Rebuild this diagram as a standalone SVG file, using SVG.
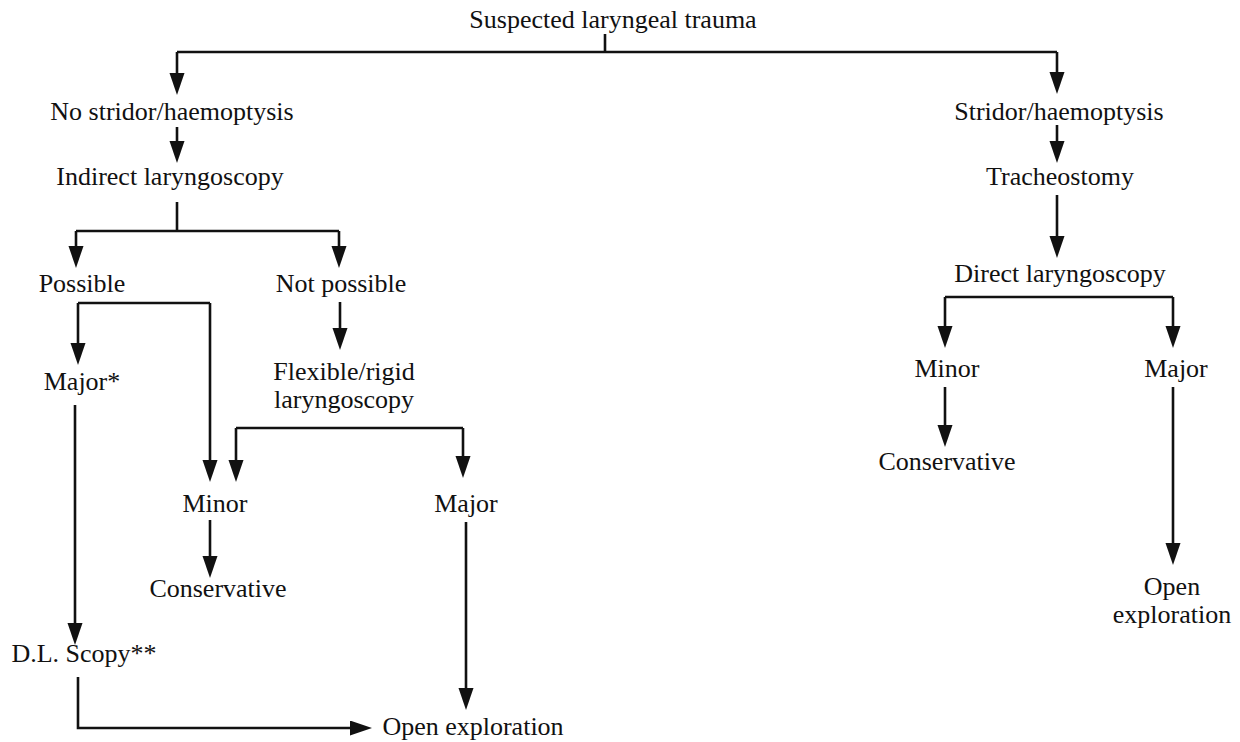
<svg xmlns="http://www.w3.org/2000/svg" width="1240" height="742" viewBox="0 0 1240 742">
<defs>
<marker id="ah" markerUnits="userSpaceOnUse" markerWidth="24" markerHeight="16" refX="16" refY="7.5" orient="auto">
<path d="M0,0 L22,7.5 L0,15 z" fill="#111"/>
</marker>
<style>
text{font-family:"Liberation Serif","Times New Roman",serif;font-size:26px;fill:#111;text-anchor:middle}
.c path{fill:none;stroke:#111;stroke-width:2.6}
.c .a{marker-end:url(#ah)}
</style>
</defs>
<rect width="1240" height="742" fill="#fff"/>
<g class="c" id="connectors">
<path d="M605,34 V52"/>
<path d="M177,52 H1057"/>
<path class="a" d="M177,52 V89"/>
<path class="a" d="M1057,52 V88"/>
<path class="a" d="M177,127 V157"/>
<path d="M177,202 V231"/>
<path d="M76,231 H339"/>
<path class="a" d="M76,231 V262"/>
<path class="a" d="M339,231 V262"/>
<path d="M78,303 H210"/>
<path class="a" d="M78,303 V359"/>
<path class="a" d="M210,303 V476"/>
<path class="a" d="M340,302 V344"/>
<path d="M236,428 H463"/>
<path class="a" d="M236,428 V476"/>
<path class="a" d="M463,428 V472"/>
<path class="a" d="M210,520 V572"/>
<path class="a" d="M75,405 V639"/>
<path class="a" d="M78,677 V728 H366"/>
<path class="a" d="M466,522 V704"/>
<path class="a" d="M1057,125 V157"/>
<path class="a" d="M1057,195 V252"/>
<path d="M945,297 H1173"/>
<path class="a" d="M945,297 V342"/>
<path class="a" d="M1173,297 V342"/>
<path class="a" d="M945,387 V441"/>
<path class="a" d="M1173,387 V559"/>
</g>
<g id="n-trauma"><text x="613" y="28">Suspected laryngeal trauma</text></g>
<g id="n-nostridor"><text x="172" y="120">No stridor/haemoptysis</text></g>
<g id="n-indirect"><text x="170" y="185">Indirect laryngoscopy</text></g>
<g id="n-possible"><text x="82" y="292">Possible</text></g>
<g id="n-notpossible"><text x="341" y="292">Not possible</text></g>
<g id="n-majorstar"><text x="82" y="390">Major*</text></g>
<g id="n-flexible"><text x="344" y="380">Flexible/rigid</text><text x="344" y="408">laryngoscopy</text></g>
<g id="n-minor-l"><text x="215" y="512">Minor</text></g>
<g id="n-major-l"><text x="466" y="512">Major</text></g>
<g id="n-conservative-l"><text x="218" y="597">Conservative</text></g>
<g id="n-dlscopy"><text x="84" y="662">D.L. Scopy**</text></g>
<g id="n-open-l"><text x="473" y="735">Open exploration</text></g>
<g id="n-stridor"><text x="1059" y="120">Stridor/haemoptysis</text></g>
<g id="n-tracheostomy"><text x="1060" y="185">Tracheostomy</text></g>
<g id="n-direct"><text x="1060" y="282">Direct laryngoscopy</text></g>
<g id="n-minor-r"><text x="947" y="377">Minor</text></g>
<g id="n-major-r"><text x="1176" y="377">Major</text></g>
<g id="n-conservative-r"><text x="947" y="470">Conservative</text></g>
<g id="n-open-r"><text x="1172" y="595">Open</text><text x="1172" y="623">exploration</text></g>
</svg>
